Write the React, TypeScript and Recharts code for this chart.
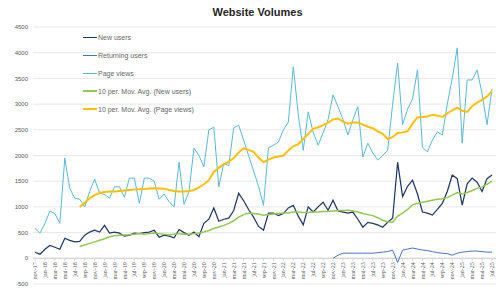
import { LineChart, Line, XAxis, YAxis, CartesianGrid, Legend, ReferenceLine } from 'recharts'

const months = [
  'nov-17', 'des-17',
  'jan-18', 'feb-18', 'mar-18', 'apr-18', 'mai-18', 'jun-18', 'jul-18', 'aug-18', 'sep-18', 'okt-18', 'nov-18', 'des-18',
  'jan-19', 'feb-19', 'mar-19', 'apr-19', 'mai-19', 'jun-19', 'jul-19', 'aug-19', 'sep-19', 'okt-19', 'nov-19', 'des-19',
  'jan-20', 'feb-20', 'mar-20', 'apr-20', 'mai-20', 'jun-20', 'jul-20', 'aug-20', 'sep-20', 'okt-20', 'nov-20', 'des-20',
  'jan-21', 'feb-21', 'mar-21', 'apr-21', 'mai-21', 'jun-21', 'jul-21', 'aug-21', 'sep-21', 'okt-21', 'nov-21', 'des-21',
  'jan-22', 'feb-22', 'mar-22', 'apr-22', 'mai-22', 'jun-22', 'jul-22', 'aug-22', 'sep-22', 'okt-22', 'nov-22', 'des-22',
  'jan-23', 'feb-23', 'mar-23', 'apr-23', 'mai-23', 'jun-23', 'jul-23', 'aug-23', 'sep-23', 'okt-23', 'nov-23', 'des-23',
  'jan-24', 'feb-24', 'mar-24', 'apr-24', 'mai-24', 'jun-24', 'jul-24', 'aug-24', 'sep-24', 'okt-24', 'nov-24', 'des-24',
  'jan-25', 'feb-25', 'mar-25', 'apr-25', 'mai-25', 'jun-25', 'jul-25',
]

const newUsers = [
  117, 80, 175, 250, 215, 175, 390, 350, 320, 330,
  450, 510, 545, 510, 640, 490, 510, 490, 430, 450,
  490, 480, 500, 510, 545, 410, 450, 430, 400, 560,
  500, 450, 510, 420, 680, 760, 980, 720, 760, 780,
  930, 1265, 1120, 950, 800, 620, 545, 880, 880, 830,
  870, 980, 1030, 820, 650, 1000, 900, 1000, 1090, 935,
  1130, 920, 900, 880, 900, 760, 605, 700, 680, 650,
  605, 700, 780, 1870, 1200, 1400, 1520, 1250, 900, 880,
  840, 950, 1070, 1300, 1620, 1550, 1035, 1450, 1560, 1480,
  1300, 1550, 1620,
]

const returningUsers = [
  null, null, null, null, null, null, null, null, null, null,
  null, null, null, null, null, null, null, null, null, null,
  null, null, null, null, null, null, null, null, null, null,
  null, null, null, null, null, null, null, null, null, null,
  null, null, null, null, null, null, null, null, null, null,
  null, null, null, null, null, null, null, null, null, null,
  0, 60, 100, 100, 100, 100, 100, 100, 100, 110,
  120, 130, 160, -80, 160, 180, 200, 180, 160, 150,
  130, 110, 100, 90, 60, 100, 120, 130, 140, 140,
  130, 120, 120,
]

const pageViews = [
  580, 490, 680, 920, 870, 680, 1950, 1360, 1170, 1150,
  1000, 1300, 1540, 1270, 1240, 1170, 1390, 1390, 1190, 1560,
  1560, 1070, 1560, 1560, 1500, 1150, 1250, 1100, 1000, 1870,
  1050, 1300, 2145, 2000, 1780, 2500, 2550, 1390, 1850, 1800,
  2540, 2590, 2300, 2000, 1700, 1400, 1030, 2150, 2200, 2260,
  2500, 2650, 3725, 2800, 2100, 2850, 2450, 2200, 2440, 2700,
  3180, 2950, 2700, 2400, 2700, 2950, 1970, 2240, 2050, 1910,
  2000, 2100, 3000, 3800, 2600, 2900, 3100, 3670, 2160, 2070,
  2300, 2460, 2400, 3000, 3500, 4095, 2240, 3470, 3470, 3665,
  3200, 2600, 3300,
]

// 10 period moving averages
const newUsersAvg = [
  null, null, null, null, null, null, null, null, null, 230,
  260, 290, 320, 350, 380, 420, 440, 450, 455, 460,
  470, 480, 470, 480, 490, 480, 470, 460, 470, 480,
  470, 470, 480, 490, 510, 540, 580, 610, 640, 680,
  730, 800, 850, 880, 870, 860, 840, 850, 860, 870,
  880, 880, 900, 900, 890, 890, 900, 900, 910, 910,
  920, 930, 930, 935, 920, 900, 870, 850, 830, 790,
  740, 710, 700, 820, 880, 950, 1040, 1070, 1090, 1110,
  1130, 1150, 1160, 1180, 1230, 1280, 1250, 1280, 1320, 1360,
  1390, 1440, 1500,
]

const pageViewsAvg = [
  null, null, null, null, null, null, null, null, null, 1000,
  1080, 1170, 1230, 1270, 1290, 1300, 1300, 1310, 1320, 1330,
  1340, 1345, 1350, 1360, 1365, 1360, 1355, 1330, 1310, 1300,
  1300, 1310, 1330, 1380, 1440, 1520, 1680, 1760, 1830, 1880,
  1950, 2060, 2140, 2110, 2070, 1960, 1870, 1920, 1960, 1980,
  2000, 2100, 2180, 2220, 2320, 2420, 2520, 2550, 2590, 2640,
  2700, 2720, 2660, 2620, 2640, 2640, 2600, 2560, 2530, 2470,
  2420, 2320, 2360, 2440, 2450, 2470, 2620, 2740, 2750, 2760,
  2790, 2780, 2750, 2820, 2880, 2930, 2870, 2850, 2960, 3030,
  3080, 3150, 3250,
]

const yTicks = [-500, 0, 500, 1000, 1500, 2000, 2500, 3000, 3500, 4000, 4500]

const data = months.map((month, i) => ({
  month,
  newUsers: newUsers[i],
  returningUsers: returningUsers[i],
  pageViews: pageViews[i],
  newUsersAvg: newUsersAvg[i],
  pageViewsAvg: pageViewsAvg[i],
}))

const legendItems = [
  { name: 'New users', color: '#1f3864', width: 1.25 },
  { name: 'Returning users', color: '#4a72c4', width: 1 },
  { name: 'Page views', color: '#5bb8d4', width: 1 },
  { name: '10 per. Mov. Avg. (New users)', color: '#92c84f', width: 1.5 },
  { name: '10 per. Mov. Avg. (Page views)', color: '#ffc000', width: 2 },
]

// x axis labels sit on the 0 line, not at the chart bottom (-500)
const ZERO_OFFSET = 25.7

function MonthTick({ x, y, payload }: any) {
  const y0 = y - ZERO_OFFSET
  return (
    <g>
      <line x1={x} x2={x} y1={y0} y2={y0 + 3} stroke="#d0d0d0" strokeWidth={0.8} />
      <text
        x={x}
        y={y0 + 4}
        transform={`rotate(-90, ${x}, ${y0 + 4})`}
        textAnchor="end"
        dy="0.35em"
        fontSize={6}
        fill="#595959"
      >
        {payload.value}
      </text>
    </g>
  )
}

function LegendBox() {
  return (
    <div style={{ fontFamily: '"Liberation Sans", Arial, sans-serif', fontSize: 7, color: '#666' }}>
      {legendItems.map((item) => (
        <div key={item.name} style={{ display: 'flex', alignItems: 'center', height: 17.9 }}>
          <span style={{ display: 'inline-block', width: 14, height: item.width, background: item.color, marginRight: 1 }} />
          <span>{item.name}</span>
        </div>
      ))}
    </div>
  )
}

export default function App() {
  return (
    <div style={{ position: 'absolute', left: 0, top: 0, width: 496, height: 291, background: '#fff' }}>
      <div
        style={{
          position: 'absolute',
          left: 0,
          top: 5,
          width: 515,
          textAlign: 'center',
          fontFamily: '"Liberation Sans", Arial, sans-serif',
          fontWeight: 'bold',
          fontSize: 11,
          color: '#262626',
          lineHeight: '14px',
        }}
      >
        Website Volumes
      </div>
      <LineChart width={496} height={291} data={data} margin={{ top: 27, right: 0, bottom: 0, left: 0 }}>
        <CartesianGrid vertical={false} stroke="#e8e8e8" />
        <XAxis
          dataKey="month"
          interval={1}
          height={7}
          tickSize={0}
          tickMargin={0}
          axisLine={false}
          tick={<MonthTick />}
          padding={{ left: 2, right: 4 }}
        />
        <YAxis
          domain={[-500, 4500]}
          ticks={yTicks}
          width={33}
          tickSize={0}
          tickMargin={5}
          axisLine={false}
          tickLine={false}
          tick={{ fill: '#595959', fontSize: 6, fontFamily: '"Liberation Sans", Arial, sans-serif' }}
        />
        <ReferenceLine y={0} stroke="#d0d0d0" />
        <Legend
          layout="vertical"
          align="center"
          verticalAlign="middle"
          content={<LegendBox />}
          wrapperStyle={{ left: 83, top: 28.5, width: 'auto' }}
        />
        <Line dataKey="pageViews" stroke="#5bb8d4" strokeWidth={1} dot={false} isAnimationActive={false} />
        <Line dataKey="newUsers" stroke="#1f3864" strokeWidth={1.25} dot={false} isAnimationActive={false} />
        <Line dataKey="returningUsers" stroke="#4a72c4" strokeWidth={1} dot={false} isAnimationActive={false} />
        <Line dataKey="newUsersAvg" stroke="#92c84f" strokeWidth={1.5} dot={false} isAnimationActive={false} />
        <Line dataKey="pageViewsAvg" stroke="#ffc000" strokeWidth={2} dot={false} isAnimationActive={false} />
      </LineChart>
    </div>
  )
}
